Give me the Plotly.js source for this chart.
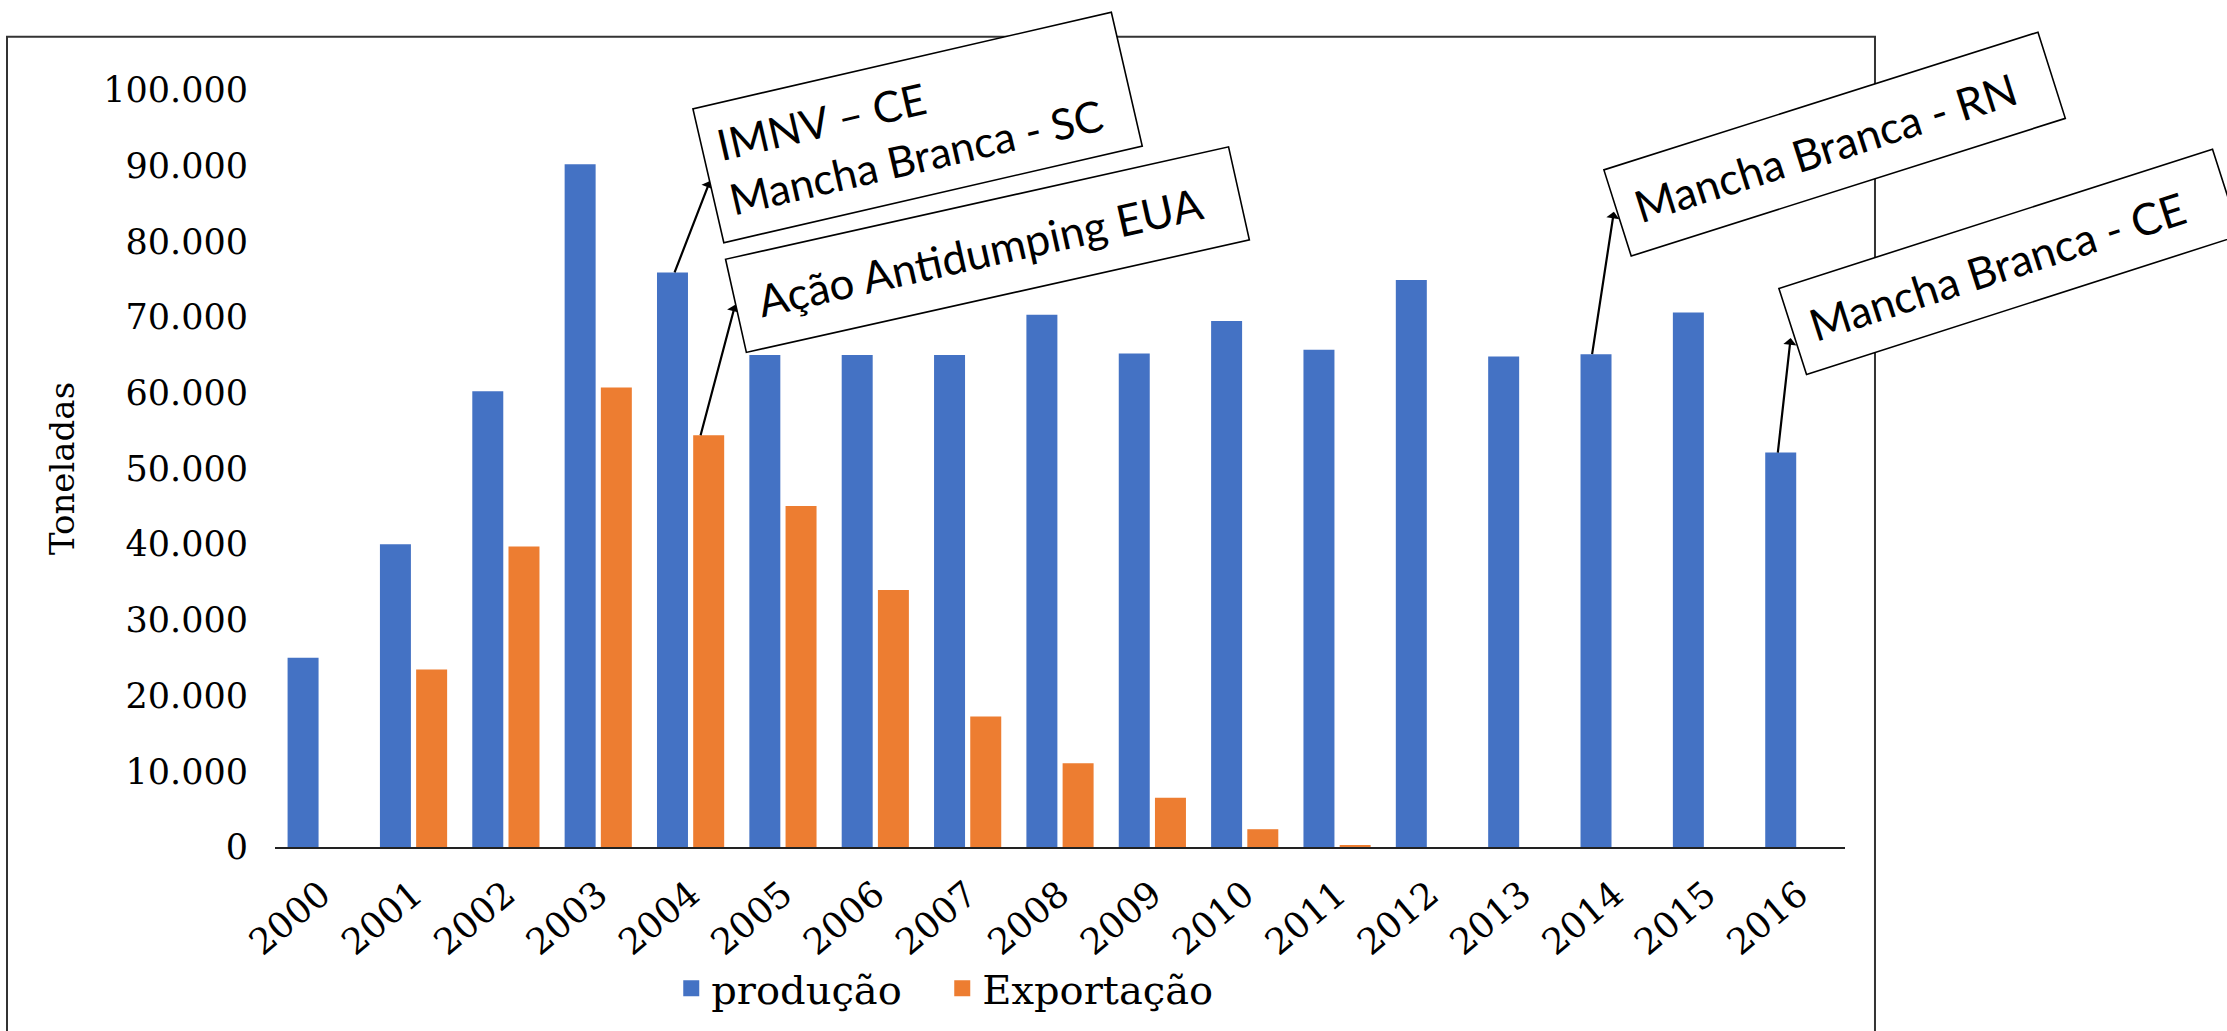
<!DOCTYPE html>
<html>
<head>
<meta charset="utf-8">
<script src="https://cdn.plot.ly/plotly-3.0.1.min.js"></script>
<style>html,body{margin:0;padding:0;background:#fff;}</style>
</head>
<body>
<div id="grafico" style="width:2227px;height:1031px;"></div>
<script>
'use strict'

// dados (toneladas)
var anos = ['2000','2001','2002','2003','2004','2005','2006','2007','2008',
            '2009','2010','2011','2012','2013','2014','2015','2016'];
var producao = [25000, 40000, 60200, 90200, 75900, 65000, 65000, 65000, 70300,
                65200, 69500, 65700, 74900, 64800, 65100, 70600, 52100];
var exportacao = [null, 23450, 39700, 60700, 54400, 45050, 33950, 17250, 11050,
                  6500, 2350, 150, null, null, null, null, null];

// eventos marcados com caixas e setas
var eventos = ['IMNV – CE<br>Mancha Branca - SC', 'Ação Antidumping EUA',
               'Mancha Branca - RN', 'Mancha Branca - CE'];
var eventoAno = ['2004', '2004', '2014', '2016'];
var eventoSerie = ['producao', 'exportacao', 'producao', 'producao'];

// aparencia das caixas (posicao em coordenadas do papel)
var caixas = [
    {x: 0.4092, y: 0.951, ang: -13, w: 398, h: 106, pad: 15, fs: 43},
    {x: 0.4541, y: 0.789, ang: -12.6, w: 470, h: 50, pad: 22, fs: 44},
    {x: 0.9936, y: 0.929, ang: -17.6, w: 418, h: 53, pad: 18, fs: 44},
    {x: 1.1045, y: 0.773, ang: -17.8, w: 418, h: 53, pad: 18, fs: 44}
];
var setas = [
    {xs: -16, ax: 36, ay: -93},
    {xs: 10, ax: 35, ay: -132},
    {xs: -22, ax: 22, ay: -144},
    {xs: -21, ax: 13, ay: -116}
];

var serif = 'DejaVu Serif';
var azul = '#4472C4';
var laranja = '#ED7D31';

var trProd = {
    x: anos, y: producao, type: 'bar', name: 'produção',
    marker: {color: azul}, showlegend: false
};
var trExp = {
    x: anos, y: exportacao, type: 'bar', name: 'Exportação',
    marker: {color: laranja}, showlegend: false
};
// entradas de legenda com quadrado maior
var legProd = {
    x: [null], y: [null], type: 'scatter', mode: 'markers', name: 'produção',
    marker: {symbol: 'square', size: 16, color: azul}
};
var legExp = {
    x: [null], y: [null], type: 'scatter', mode: 'markers', name: 'Exportação',
    marker: {symbol: 'square', size: 16, color: laranja}
};

var annotations = [];
for (var i = 0; i < eventos.length; i++) {
    var idx = anos.indexOf(eventoAno[i]);
    var val = eventoSerie[i] === 'producao' ? producao[idx] : exportacao[idx];
    // seta saindo do topo da barra ate a caixa
    annotations.push({
        x: idx, y: val, xref: 'x', yref: 'y',
        xshift: setas[i].xs,
        text: '', showarrow: true, arrowside: 'start',
        ax: setas[i].ax, ay: setas[i].ay,
        arrowhead: 2, arrowsize: 1.3, arrowwidth: 2.2, arrowcolor: '#000'
    });
    var c = caixas[i];
    annotations.push({
        x: c.x, y: c.y, xref: 'paper', yref: 'paper',
        xanchor: 'center', yanchor: 'middle',
        text: eventos[i], showarrow: false,
        textangle: c.ang, align: 'left', valign: 'middle',
        width: c.w, height: c.h, borderpad: c.pad,
        font: {family: 'Lato', size: c.fs, color: '#000'},
        bgcolor: '#fff', bordercolor: '#000', borderwidth: 1.6
    });
}

var layout = {
    width: 2227,
    height: 1031,
    margin: {l: 275, r: 382, t: 90, b: 183, pad: 0},
    paper_bgcolor: '#fff',
    plot_bgcolor: '#fff',
    separators: ',.',
    barmode: 'group',
    bargap: 0.216,
    bargroupgap: 0.144,
    showlegend: true,
    legend: {
        orientation: 'h',
        x: 0.425, xanchor: 'center',
        y: -0.185, yanchor: 'middle',
        entrywidth: 226,
        bgcolor: 'rgba(0,0,0,0)',
        font: {family: serif, size: 40, color: '#000'}
    },
    xaxis: {
        type: 'category',
        range: [-0.5, anos.length - 0.5],
        tickangle: -40,
        tickfont: {family: serif, size: 36, color: '#000'},
        showline: true, linecolor: '#222', linewidth: 2,
        showgrid: false, ticks: '', ticklabelstandoff: 10
    },
    yaxis: {
        range: [0, 100000],
        dtick: 10000,
        tickformat: ',d',
        tickfont: {family: serif, size: 35, color: '#000'},
        showgrid: false, zeroline: false, showline: false,
        ticks: '', ticklabelstandoff: 26,
        title: {text: 'Toneladas', font: {family: serif, size: 34, color: '#000'}, standoff: 18}
    },
    shapes: [{
        type: 'rect', xref: 'paper', yref: 'paper',
        x0: -0.1707, x1: 1.0191, y0: -0.4, y1: 1.0705,
        line: {color: '#333', width: 2}
    }],
    annotations: annotations
};

Plotly.newPlot('grafico', [trProd, trExp, legProd, legExp], layout, {displayModeBar: false});
</script>
</body>
</html>
